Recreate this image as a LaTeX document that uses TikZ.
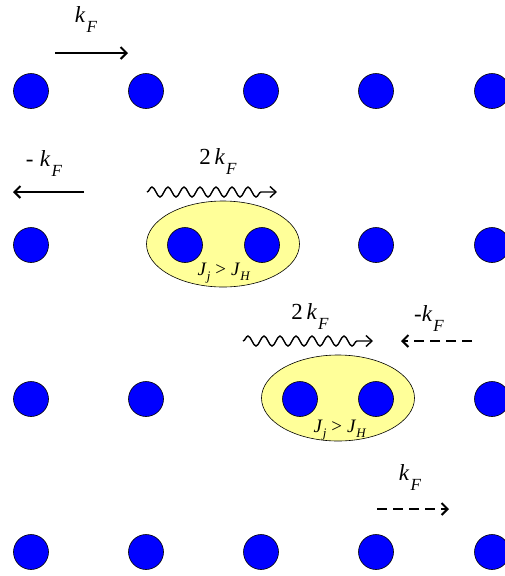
\documentclass[tikz,border=0pt]{standalone}
\usepackage{fontspec}
\setmainfont{Liberation Serif}
\usetikzlibrary{positioning,shapes.geometric,decorations.pathmorphing,arrows.meta}
\definecolor{atomblue}{RGB}{0,0,255}
\definecolor{pairyellow}{RGB}{255,255,153}
\newcommand{\kay}[1]{#1\textit{k}\kern1pt\raisebox{-10pt}{\fontsize{17}{19}\selectfont\textit{F}}}
\newcommand{\jrel}{\textit{J}\raisebox{-5pt}{\fontsize{13}{15}\selectfont\textit{j}}\kern5pt{}>\kern5pt\textit{J}\raisebox{-5pt}{\fontsize{13}{15}\selectfont\textit{H}}}

\begin{document}
\begin{tikzpicture}[x=1pt, y=-1pt,
  atom/.style={circle, draw=black, fill=atomblue, minimum size=35pt, inner sep=0pt, line width=0.6pt},
  dimer/.style={ellipse, draw=black, fill=pairyellow, minimum width=153pt, minimum height=86pt, inner sep=0pt, line width=0.6pt},
  lbl/.style={inner sep=0pt, font=\fontsize{23}{26}\selectfont},
  jlbl/.style={inner sep=0pt, font=\fontsize{19}{22}\selectfont},
  move/.style={-{Straight Barb[length=6pt, width=12pt]}, line width=2pt},
  back/.style={move, dash pattern=on 10pt off 6pt},
  wave/.style={-{Straight Barb[length=6pt, width=11pt]}, line width=1.4pt, decorate,
    decoration={snake, amplitude=5pt, segment length=16pt, post length=12pt}}]

\useasboundingbox (0,0) rectangle (504,576);

% row 1
\node[atom] (a11) at (31,91) {};
\node[atom] (a12) at (146,91) {};
\node[atom] (a13) at (261,91) {};
\node[atom] (a14) at (376,91) {};
\node[atom] (a15) at (492,91) {};
\coordinate (k1s) at (55,53);
\coordinate (k1e) at (128,53);
\draw[move] (k1s) -- (k1e);
\node[lbl] (k1) at (86,20) {\kay{}};

% row 2
\node[dimer] (d2) at (223,244) {};
\node[atom] (a21) at (31,245) {};
\node[atom] (a22) at (185,245) {};
\node[atom] (a23) at (262,245) {};
\node[atom] (a24) at (376,245) {};
\node[atom] (a25) at (492,245) {};
\node[jlbl] (j2) at (224,273) {\jrel};
\coordinate (k2s) at (84,192);
\coordinate (k2e) at (13,192);
\draw[move] (k2s) -- (k2e);
\node[lbl] (k2) at (44,164) {\kay{-\;}};
\coordinate (w2s) at (147,192);
\coordinate (w2e) at (277,192);
\draw[wave] (w2s) -- (w2e);
\node[lbl] (w2) at (218,162) {\kay{2\,}};

% row 3
\node[dimer] (d3) at (338,398) {};
\node[atom] (a31) at (31,399) {};
\node[atom] (a32) at (146,399) {};
\node[atom] (a33) at (300,399) {};
\node[atom] (a34) at (376,399) {};
\node[atom] (a35) at (492,399) {};
\node[jlbl] (j3) at (340,430) {\jrel};
\coordinate (w3s) at (243,341);
\coordinate (w3e) at (373,341);
\draw[wave] (w3s) -- (w3e);
\node[lbl] (w3) at (310,317) {\kay{2\,}};
\coordinate (k3s) at (472,341);
\coordinate (k3e) at (401,341);
\draw[back] (k3s) -- (k3e);
\node[lbl] (k3) at (429,319) {\kay{-}};

% row 4
\node[atom] (a41) at (31,552) {};
\node[atom] (a42) at (146,552) {};
\node[atom] (a43) at (261,552) {};
\node[atom] (a44) at (376,552) {};
\node[atom] (a45) at (492,552) {};
\coordinate (k4s) at (377,509);
\coordinate (k4e) at (449,509);
\draw[back] (k4s) -- (k4e);
\node[lbl] (k4) at (410,478) {\kay{}};

\end{tikzpicture}
\end{document}
